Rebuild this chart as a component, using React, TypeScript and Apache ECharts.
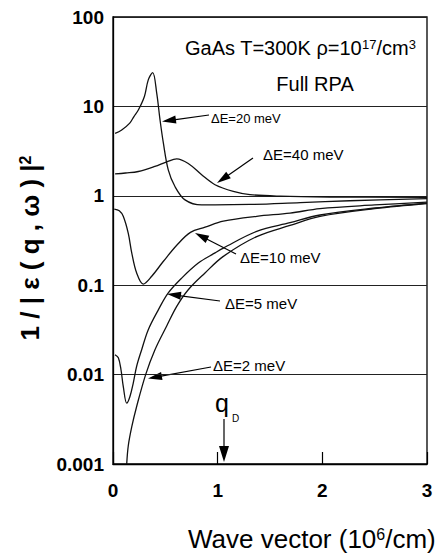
import React, { useEffect, useRef } from "react";
import * as echarts from "echarts";

// ---- data ----
const q40 = [0.02, 0.12, 0.242, 0.4, 0.513, 0.609, 0.719, 0.847, 0.975, 1.149, 1.309, 1.595, 2.07, 3.0];
const inv40 = [1.76, 1.8, 1.87, 2.13, 2.4, 2.59, 2.3, 1.72, 1.33, 1.12, 1.03, 0.99, 0.97, 0.96];

const q20 = [0.02, 0.08, 0.16, 0.2, 0.242, 0.3, 0.337, 0.379, 0.418, 0.449, 0.481, 0.528, 0.592, 0.688, 0.847, 0.975, 1.31, 1.79, 2.26, 3.0];
const inv20 = [5.0, 5.4, 6.5, 7.7, 9.1, 12.9, 19.8, 23.9, 14, 7.1, 3.9, 1.95, 1.27, 0.9, 0.79, 0.79, 0.8, 0.84, 0.88, 0.93];

const q10 = [0.012, 0.06, 0.098, 0.146, 0.179, 0.226, 0.289, 0.37, 0.48, 0.609, 0.74, 0.88, 1.054, 1.373, 1.691, 1.978, 2.5, 3.0];
const inv10 = [0.71, 0.68, 0.59, 0.38, 0.23, 0.137, 0.103, 0.126, 0.184, 0.28, 0.39, 0.445, 0.52, 0.59, 0.64, 0.72, 0.79, 0.85];

const q5 = [0.019, 0.051, 0.076, 0.098, 0.131, 0.162, 0.194, 0.226, 0.274, 0.337, 0.433, 0.528, 0.656, 0.815, 0.975, 1.054, 1.373, 1.691, 1.978, 2.5, 3.0];
const inv5 = [0.0167, 0.0154, 0.0114, 0.0074, 0.0048, 0.0057, 0.0081, 0.0124, 0.019, 0.0318, 0.053, 0.082, 0.12, 0.177, 0.23, 0.26, 0.4, 0.5, 0.61, 0.73, 0.83];

const q2 = [0.131, 0.146, 0.179, 0.226, 0.312, 0.401, 0.513, 0.609, 0.719, 0.879, 1.054, 1.373, 1.691, 1.978, 2.5, 3.0];
const inv2 = [0.001, 0.0016, 0.0026, 0.0044, 0.01, 0.019, 0.035, 0.058, 0.089, 0.137, 0.21, 0.35, 0.466, 0.59, 0.72, 0.82];

const yTickLabels = ["0.001", "0.01", "0.1", "1", "10", "100"];
const xTickLabels = ["0", "1", "2", "3"];

const FONT = "Liberation Sans, Arial, Helvetica, sans-serif";

function zip(xs: number[], ys: number[]) {
  return xs.map((x, i) => [x, ys[i]]);
}

function arrow(x1: number, y1: number, x2: number, y2: number, head = 14, hw = 4): any[] {
  const dx = x2 - x1;
  const dy = y2 - y1;
  const len = Math.sqrt(dx * dx + dy * dy);
  const ux = dx / len;
  const uy = dy / len;
  const bx = x2 - ux * head;
  const by = y2 - uy * head;
  const nx = -uy;
  const ny = ux;
  return [
    {
      type: "line",
      shape: { x1, y1, x2: bx + ux * 2, y2: by + uy * 2 },
      style: { stroke: "#000", lineWidth: 1.2 },
      silent: true,
    },
    {
      type: "polygon",
      shape: {
        points: [
          [x2, y2],
          [bx + nx * hw, by + ny * hw],
          [bx - nx * hw, by - ny * hw],
        ],
      },
      style: { fill: "#000" },
      silent: true,
    },
  ];
}

function label(text: string, x: number, y: number, size: number): any {
  return {
    type: "text",
    x,
    y,
    style: {
      text,
      fontSize: size,
      fontFamily: FONT,
      fill: "#000",
      align: "left",
      verticalAlign: "middle",
    },
    silent: true,
  };
}

function makeSeries(name: string, xs: number[], ys: number[]) {
  return {
    name,
    type: "line",
    data: zip(xs, ys),
    showSymbol: false,
    smooth: 0.35,
    lineStyle: { color: "#111", width: 1.3 },
    clip: true,
  };
}

export default function App() {
  const ref = useRef<HTMLDivElement>(null);

  useEffect(() => {
    if (!ref.current) return;
    const chart = echarts.init(ref.current, undefined, { renderer: "svg" });

    const option: any = {
      animation: false,
      backgroundColor: "#fff",
      grid: {
        left: 113,
        right: 9,
        top: 17,
        bottom: 92,
        show: true,
        borderColor: "#000",
        borderWidth: 1.3,
      },
      xAxis: {
        type: "value",
        min: 0,
        max: 3,
        interval: 1,
        axisLine: { show: true, lineStyle: { color: "#000", width: 1.3 } },
        axisTick: { show: true, inside: true, length: 12, lineStyle: { color: "#000", width: 1.2 } },
        splitLine: { show: false },
        axisLabel: {
          margin: 17,
          fontSize: 19,
          fontWeight: "bold",
          fontFamily: FONT,
          color: "#000",
          formatter: (v: number) => xTickLabels[Math.round(v)] ?? "",
        },
      },
      yAxis: {
        type: "log",
        logBase: 10,
        min: 0.001,
        max: 100,
        axisLine: { show: true, lineStyle: { color: "#000", width: 1.3 } },
        axisTick: { show: false },
        splitLine: { show: true, lineStyle: { color: "#222", width: 1 } },
        minorSplitLine: { show: false },
        axisLabel: {
          margin: 9,
          fontSize: 19,
          fontWeight: "bold",
          fontFamily: FONT,
          color: "#000",
          formatter: (v: number) => yTickLabels[Math.round(Math.log10(v)) + 3] ?? "",
        },
      },
      series: [
        makeSeries("ΔE=40 meV", q40, inv40),
        makeSeries("ΔE=20 meV", q20, inv20),
        makeSeries("ΔE=10 meV", q10, inv10),
        makeSeries("ΔE=5 meV", q5, inv5),
        makeSeries("ΔE=2 meV", q2, inv2),
      ],
      graphic: [
        {
          type: "text",
          x: 185,
          y: 48,
          style: {
            text: "GaAs T=300K ρ=10{sup|17}/cm{sup|3}",
            fontSize: 20,
            fontFamily: FONT,
            fill: "#000",
            align: "left",
            verticalAlign: "middle",
            rich: {
              sup: { fontSize: 13, fontFamily: FONT, fill: "#000", verticalAlign: "top" },
            },
          },
          silent: true,
        },
        {
          type: "text",
          x: 315,
          y: 84,
          style: {
            text: "Full RPA",
            fontSize: 20,
            fontFamily: FONT,
            fill: "#000",
            align: "center",
            verticalAlign: "middle",
          },
          silent: true,
        },
        label("ΔE=20 meV", 211, 118, 13),
        ...arrow(209, 115, 162, 121.5),
        label("ΔE=40 meV", 263, 154, 15),
        ...arrow(253, 158, 217, 183),
        label("ΔE=10 meV", 240, 257, 15),
        ...arrow(236, 254, 195, 233),
        label("ΔE=5 meV", 225, 303, 15),
        ...arrow(220, 301, 167, 294),
        label("ΔE=2 meV", 213, 365, 15),
        ...arrow(211, 367, 148, 378.5),
        ...arrow(224, 419, 224, 462, 16, 5),
        {
          type: "text",
          x: 215,
          y: 403,
          style: { text: "q", fontSize: 25, fontFamily: FONT, fill: "#000", align: "left", verticalAlign: "middle" },
          silent: true,
        },
        {
          type: "text",
          x: 232,
          y: 418,
          style: { text: "D", fontSize: 10, fontFamily: FONT, fill: "#000", align: "left", verticalAlign: "middle" },
          silent: true,
        },
        {
          type: "text",
          x: 30,
          y: 248,
          rotation: Math.PI / 2,
          style: {
            text: "1 / | ε ( q , ω ) |{sup|2}",
            fontSize: 26,
            fontWeight: "bold",
            fontFamily: FONT,
            fill: "#000",
            align: "center",
            verticalAlign: "middle",
            rich: {
              sup: { fontSize: 16, fontWeight: "bold", fontFamily: FONT, fill: "#000", verticalAlign: "top" },
            },
          },
          silent: true,
        },
        {
          type: "text",
          x: 188,
          y: 539,
          style: {
            text: "Wave vector (10{sup|6}/cm)",
            fontSize: 26,
            fontFamily: FONT,
            fill: "#000",
            align: "left",
            verticalAlign: "middle",
            rich: {
              sup: { fontSize: 16, fontFamily: FONT, fill: "#000", verticalAlign: "top" },
            },
          },
          silent: true,
        },
      ],
    };

    chart.setOption(option);
    return () => {
      chart.dispose();
    };
  }, []);

  return (
    <div
      ref={ref}
      style={{ position: "fixed", left: 0, top: 0, width: 436, height: 556, background: "#fff" }}
    />
  );
}
